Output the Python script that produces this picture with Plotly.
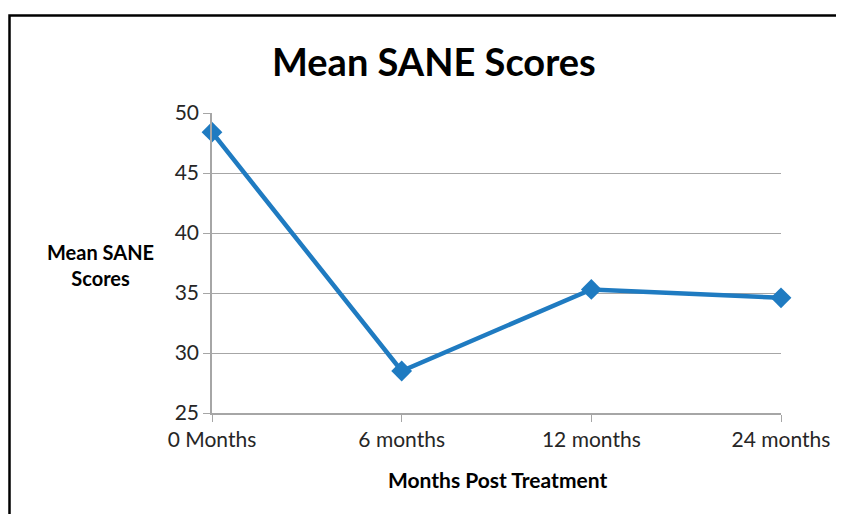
import plotly.graph_objects as go

categories = ["0 Months", "6 months", "12 months", "24 months"]
scores = [48.4, 28.5, 35.3, 34.6]
y_ticks = [25, 30, 35, 40, 45, 50]

W, H = 844, 514
OFF = 8  # browser body margin
L, R, T, B = 212 - OFF, 844 - 781 + OFF, 113 - OFF, 514 - 413 + OFF
pw, ph = W - L - R, H - T - B

def px(x):
    return (x - OFF - L) / pw

def py(y):
    return (H - B - (y - OFF)) / ph

FONT = "Lato, Open Sans, sans-serif"
BLUE = "#1f7bc1"

fig = go.Figure()
fig.add_trace(go.Scatter(
    x=list(range(len(categories))), y=scores, mode="lines+markers",
    line=dict(color=BLUE, width=4.5),
    marker=dict(symbol="diamond", size=16, color=BLUE),
    cliponaxis=False, showlegend=False,
))

fig.update_layout(
    width=W, height=H,
    margin=dict(l=L, r=R, t=T, b=B),
    paper_bgcolor="white", plot_bgcolor="white",
    font=dict(family=FONT, color="#262626"),
    xaxis=dict(
        range=[0, 3], tickvals=list(range(len(categories))), ticktext=categories,
        showgrid=False, showline=True, linecolor="#a6a6a6", linewidth=1.5,
        ticks="outside", ticklen=7, tickcolor="#a6a6a6",
        tickfont=dict(size=21, family=FONT, color="#262626"), zeroline=False,
    ),
    yaxis=dict(
        range=[25, 50], tickvals=y_ticks,
        showgrid=True, gridcolor="#a6a6a6", gridwidth=1.2,
        showline=True, linecolor="#a6a6a6", linewidth=1.5,
        ticks="outside", ticklen=7, tickcolor="#a6a6a6",
        tickfont=dict(size=21, family=FONT, color="#262626"), zeroline=False,
    ),
    annotations=[
        dict(text="<b>Mean SANE Scores</b>", x=px(433.5), y=py(61), xref="paper", yref="paper",
             showarrow=False, font=dict(size=38, family=FONT, color="black"),
             xanchor="center", yanchor="middle"),
        dict(text="<b>Mean SANE<br>Scores</b>", x=px(100), y=py(265), xref="paper", yref="paper",
             showarrow=False, font=dict(size=20, family=FONT, color="black"),
             xanchor="center", yanchor="middle"),
        dict(text="<b>Months Post Treatment</b>", x=px(497), y=py(479), xref="paper", yref="paper",
             showarrow=False, font=dict(size=21, family=FONT, color="black"),
             xanchor="center", yanchor="middle"),
    ],
    shapes=[
        dict(type="rect", xref="paper", yref="paper",
             x0=px(9.5), x1=px(900), y0=py(15.5), y1=py(560),
             line=dict(color="black", width=2.5), fillcolor="rgba(0,0,0,0)", layer="above"),
    ],
)

fig.write_html("out.html")
